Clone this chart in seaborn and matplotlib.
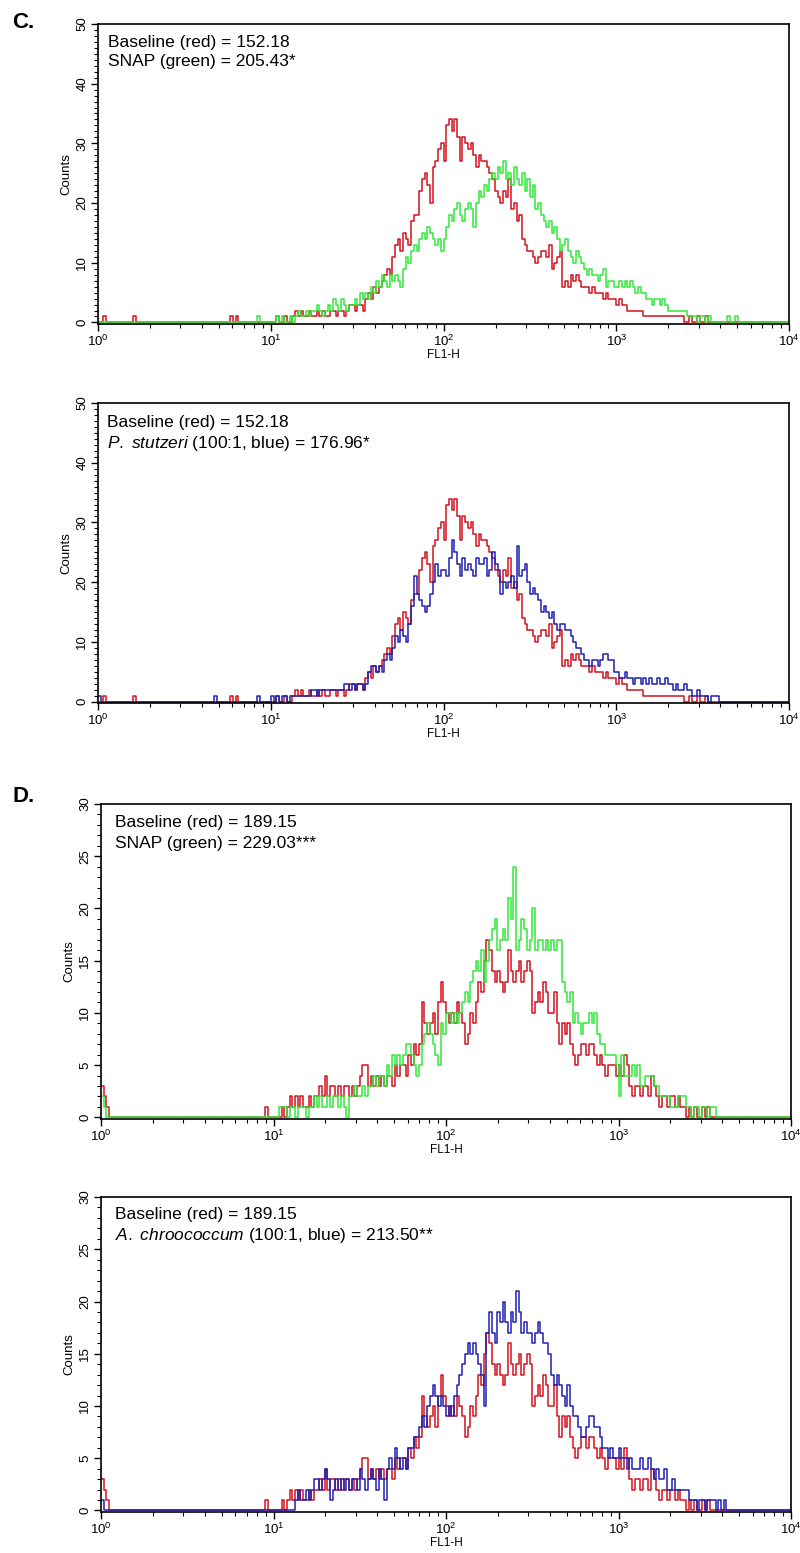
import numpy as np
import pandas as pd
import seaborn as sns
import matplotlib.pyplot as plt
from matplotlib.ticker import MultipleLocator, LogLocator, NullFormatter

# 256 log channels over 4 decades (FL1-H), counts
N_CHANNELS = 256
CH_PER_DECADE = 64
BODY_START = 64  # first channel of each dense list (= 10^1)

# ---- panel C ----
base_c = [
    0, 0, 1, 0, 0, 1,
    0, 0, 1, 2, 1, 2, 1, 1, 2, 1,
    1, 2, 1, 2, 1, 1, 2, 2, 1, 2,
    2, 1, 2, 3, 3, 2, 3, 3, 2, 4,
    5, 4, 6, 5, 6, 7, 8, 9, 8, 11,
    13, 14, 12, 15, 14, 13, 17, 18, 18, 22,
    24, 25, 23, 20, 26, 27, 29, 30, 27, 33,
    34, 32, 34, 31, 27, 31, 30, 29, 30, 28,
    26, 28, 27, 27, 26, 25, 24, 22, 21, 20,
    22, 21, 24, 19, 20, 17, 18, 14, 13, 12,
    12, 11, 10, 11, 12, 12, 11, 13, 9, 10,
    11, 12, 6, 7, 6, 8, 7, 8, 7, 6,
    6, 6, 5, 6, 5, 5, 5, 4, 5, 4,
    4, 4, 3, 4, 3, 3, 2, 2, 2, 2,
    2, 2, 1, 1, 1, 1, 1, 1, 1, 1,
    1, 1, 1, 1, 1, 1, 1, 0, 0, 1,
    0, 0, 1, 0, 0, 1,
]
base_c_spikes = {2: 1, 13: 1, 49: 1, 51: 1}

snap_c = [
    0, 0, 1, 0, 1, 0,
    0, 1, 0, 1, 2, 1, 1, 2, 1, 2,
    2, 3, 2, 1, 2, 3, 2, 4, 3, 2,
    4, 3, 2, 3, 3, 4, 3, 5, 4, 5,
    4, 6, 5, 7, 6, 8, 7, 6, 8, 7,
    8, 7, 6, 9, 11, 10, 12, 13, 12, 14,
    15, 14, 16, 15, 14, 13, 14, 12, 14, 16,
    18, 17, 19, 20, 18, 17, 19, 20, 19, 16,
    20, 22, 21, 23, 22, 24, 25, 24, 26, 25,
    27, 24, 25, 23, 26, 24, 23, 25, 22, 24,
    21, 23, 19, 20, 18, 17, 16, 17, 15, 16,
    14, 12, 13, 14, 12, 11, 10, 12, 11, 10,
    9, 8, 9, 8, 8, 7, 8, 9, 6, 7,
    7, 6, 6, 7, 6, 7, 6, 7, 6, 5,
    6, 5, 5, 4, 4, 3, 4, 4, 3, 4,
    3, 2, 2, 2, 2, 2, 2, 2, 1, 1,
    1, 1, 0, 1, 1, 0, 1,
]
snap_c_spikes = {59: 1, 233: 1, 236: 1}

stutzeri_c = [
    1, 0, 1, 0, 1, 1,
    0, 1, 1, 1, 1, 1, 1, 1, 1, 2,
    2, 1, 2, 2, 2, 2, 2, 2, 2, 2,
    2, 3, 3, 2, 3, 2, 3, 3, 2, 3,
    5, 6, 6, 5, 6, 5, 7, 8, 7, 9,
    11, 10, 12, 11, 10, 13, 16, 21, 18, 17,
    16, 15, 16, 18, 20, 23, 21, 22, 22, 21,
    24, 27, 25, 23, 21, 24, 22, 23, 22, 21,
    24, 23, 23, 24, 21, 22, 25, 23, 22, 18,
    20, 19, 20, 21, 19, 26, 21, 22, 23, 20,
    18, 19, 18, 17, 15, 16, 15, 14, 15, 13,
    12, 13, 13, 12, 12, 11, 10, 9, 9, 8,
    7, 7, 6, 7, 7, 6, 7, 8, 8, 7,
    7, 5, 5, 4, 4, 5, 4, 4, 3, 4,
    4, 3, 4, 3, 4, 3, 3, 4, 3, 3,
    4, 3, 3, 2, 3, 2, 2, 3, 2, 2,
    1, 1, 2, 1, 1, 1, 0, 1, 1, 1,
]
stutzeri_c_spikes = {0: 1, 43: 1, 59: 1}

# ---- panel D ----
base_d = [
    0, 0, 0, 1, 0, 1,
    2, 1, 2, 1, 2, 1, 1, 2, 1, 2,
    2, 3, 2, 4, 2, 3, 3, 2, 3, 2,
    3, 3, 2, 3, 2, 3, 4, 5, 5, 3,
    4, 3, 4, 3, 4, 3, 4, 4, 3, 5,
    4, 5, 5, 4, 6, 5, 7, 6, 7, 11,
    9, 8, 9, 10, 8, 11, 13, 11, 10, 9,
    10, 9, 11, 10, 9, 7, 8, 10, 9, 11,
    13, 12, 15, 17, 16, 14, 13, 14, 13, 12,
    13, 16, 14, 13, 14, 15, 13, 14, 15, 14,
    10, 11, 12, 11, 13, 12, 10, 10, 12, 9,
    7, 9, 8, 9, 7, 6, 5, 6, 7, 7,
    6, 7, 7, 6, 5, 6, 5, 4, 5, 5,
    5, 4, 5, 4, 6, 5, 3, 2, 3, 3,
    2, 3, 3, 2, 4, 3, 2, 1, 2, 2,
    1, 2, 2, 1, 2, 1, 1, 0, 1, 0,
    1, 0, 0, 1, 0, 1,
]
base_d_spikes = {0: 3, 1: 2, 2: 1, 61: 1}

snap_d = [
    0, 0, 1, 1, 1, 0,
    1, 1, 0, 1, 1, 1, 0, 1, 1, 2,
    1, 2, 1, 1, 2, 1, 2, 2, 1, 2,
    1, 0, 2, 2, 3, 2, 2, 3, 2, 3,
    3, 4, 3, 4, 4, 3, 5, 4, 6, 5,
    6, 5, 6, 7, 7, 6, 5, 4, 5, 7,
    8, 9, 8, 7, 6, 5, 9, 8, 10, 10,
    9, 10, 9, 10, 11, 12, 11, 13, 14, 15,
    14, 16, 13, 15, 17, 18, 19, 16, 17, 18,
    17, 21, 19, 24, 16, 17, 19, 18, 16, 17,
    20, 16, 17, 17, 16, 17, 16, 17, 16, 17,
    17, 13, 12, 11, 12, 9, 10, 9, 8, 9,
    9, 10, 9, 10, 8, 7, 7, 6, 6, 6,
    6, 5, 2, 6, 4, 4, 4, 5, 4, 5,
    3, 3, 4, 4, 4, 3, 3, 2, 2, 2,
    2, 1, 1, 1, 2, 2, 2, 1, 1, 0,
    1, 1, 0, 1, 1, 0, 1, 1,
]
snap_d_spikes = {0: 2, 1: 1}

chroococcum_d = [
    0, 0, 0, 0, 0, 0,
    0, 0, 1, 2, 1, 1, 2, 1, 2, 3,
    3, 2, 3, 4, 3, 1, 2, 3, 2, 3,
    2, 3, 2, 3, 3, 2, 4, 3, 2, 3,
    4, 3, 2, 4, 3, 1, 4, 5, 4, 6,
    5, 4, 5, 4, 6, 6, 7, 7, 8, 9,
    8, 10, 11, 12, 11, 10, 11, 10, 9, 10,
    9, 11, 12, 13, 14, 15, 16, 15, 16, 15,
    14, 13, 10, 17, 19, 17, 16, 19, 18, 20,
    18, 17, 19, 18, 21, 19, 17, 18, 17, 17,
    16, 17, 18, 17, 16, 16, 15, 13, 12, 13,
    12, 11, 10, 12, 10, 9, 9, 8, 7, 7,
    8, 9, 9, 8, 8, 7, 6, 6, 5, 6,
    5, 5, 6, 5, 5, 4, 5, 4, 4, 4,
    5, 4, 4, 5, 4, 3, 4, 3, 3, 4,
    2, 2, 3, 2, 2, 2, 2, 2, 1, 1,
    1, 0, 1, 1, 0, 1, 1, 1, 0, 1, 0, 1,
]
chroococcum_d_spikes = {0: 1}

RED = "#d3121f"
GREEN = "#33e83c"
BLUE = "#1f1fb0"


def full_channels(body, spikes):
    counts = np.zeros(N_CHANNELS)
    counts[BODY_START:BODY_START + len(body)] = body
    for ch, n in spikes.items():
        counts[ch] = n
    return counts


def hist_frame(series):
    edges = 10 ** (np.arange(N_CHANNELS + 1) / CH_PER_DECADE)
    frames = []
    for name, body, spikes in series:
        counts = full_channels(body, spikes)
        frames.append(pd.DataFrame({
            "FL1-H": edges,
            "Counts": np.append(counts, counts[-1]),
            "sample": name,
        }))
    return pd.concat(frames, ignore_index=True)


sns.set_style("ticks")
plt.rcParams["font.family"] = ["Liberation Sans", "DejaVu Sans"]
plt.rcParams["mathtext.fontset"] = "custom"
plt.rcParams["mathtext.rm"] = "Liberation Sans"
plt.rcParams["mathtext.it"] = "Liberation Sans:italic"
plt.rcParams["text.color"] = "black"
plt.rcParams["axes.labelcolor"] = "black"
plt.rcParams["axes.edgecolor"] = "black"
plt.rcParams["xtick.color"] = "black"
plt.rcParams["ytick.color"] = "black"

fig = plt.figure(figsize=(8, 15.53), dpi=100)

panels = [
    # rect, ymax, series, palette, text lines, text position
    ([0.1225, 0.7914, 0.864, 0.1932], 50,
     [("base", base_c, base_c_spikes), ("snap", snap_c, snap_c_spikes)],
     {"base": RED, "snap": GREEN},
     ["Baseline (red) = 152.18", "SNAP (green) = 205.43*"], (0.0145, 0.924, 0.86)),
    ([0.1225, 0.5473, 0.864, 0.1932], 50,
     [("base", base_c, base_c_spikes), ("bact", stutzeri_c, stutzeri_c_spikes)],
     {"base": RED, "bact": BLUE},
     ["Baseline (red) = 152.18",
      r"$\mathit{P.\ stutzeri}$ (100:1, blue) = 176.96*"], (0.013, 0.921, 0.85)),
    ([0.12625, 0.2795, 0.8625, 0.2028], 30,
     [("base", base_d, base_d_spikes), ("snap", snap_d, snap_d_spikes)],
     {"base": RED, "snap": GREEN},
     ["Baseline (red) = 189.15", "SNAP (green) = 229.03***"], (0.02, 0.928, 0.86)),
    ([0.12625, 0.0264, 0.8625, 0.2028], 30,
     [("base", base_d, base_d_spikes), ("bact", chroococcum_d, chroococcum_d_spikes)],
     {"base": RED, "bact": BLUE},
     ["Baseline (red) = 189.15",
      r"$\mathit{A.\ chroococcum}$ (100:1, blue) = 213.50**"], (0.02, 0.93, 0.864)),
]

for rect, ymax, series, palette, lines, (tx, ty1, ty2) in panels:
    ax = fig.add_axes(rect)
    df = hist_frame(series)
    sns.lineplot(data=df, x="FL1-H", y="Counts", hue="sample", palette=palette,
                 estimator=None, sort=False, drawstyle="steps-post",
                 linewidth=1.1, legend=False, ax=ax)
    ax.set_xscale("log")
    ax.set_xlim(1, 1e4)
    ax.set_ylim(-ymax * 0.005, ymax)
    ax.xaxis.set_major_locator(LogLocator(base=10))
    ax.xaxis.set_minor_locator(LogLocator(base=10, subs=np.arange(2, 10)))
    ax.xaxis.set_minor_formatter(NullFormatter())
    ax.set_yticks(np.arange(0, ymax + 1, 10 if ymax == 50 else 5))
    ax.yaxis.set_minor_locator(MultipleLocator(1))
    ax.tick_params(which="major", direction="out", length=5, width=1,
                   labelsize=9.5, pad=2)
    ax.tick_params(which="minor", direction="out", length=3, width=0.8)
    ax.tick_params(axis="y", labelrotation=90)
    for lab in ax.get_yticklabels():
        lab.set_va("center")
    for sp in ax.spines.values():
        sp.set_linewidth(1.2)
    ax.set_xlabel("FL1-H", fontsize=8.5, labelpad=0)
    ax.set_ylabel("Counts", fontsize=9.5, labelpad=3)
    ax.text(tx, ty1, lines[0], transform=ax.transAxes, fontsize=12.5, va="baseline")
    ax.text(tx, ty2, lines[1], transform=ax.transAxes, fontsize=12.5, va="baseline")

fig.text(0.015, 1 - 28 / 1553, "C.", fontsize=16, fontweight="bold", va="baseline")
fig.text(0.015, 1 - 802 / 1553, "D.", fontsize=16, fontweight="bold", va="baseline")

fig.savefig("out.png", dpi=100)
